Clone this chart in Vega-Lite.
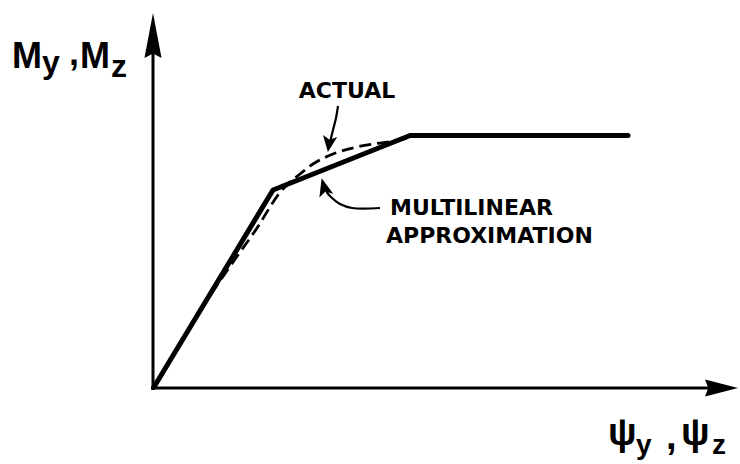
{
  "$schema": "https://vega.github.io/schema/vega-lite/v6.json",
  "width": 740,
  "height": 464,
  "padding": 0,
  "autosize": "none",
  "background": "white",
  "config": {"view": {"stroke": null}},
  "datasets": {
    "axes": [
      {"axis": "moment", "x": -0.2, "y": -0.6, "x2": -0.2, "y2": 68},
      {"axis": "rotation", "x": -0.6, "y": -0.2, "x2": 112, "y2": -0.2}
    ],
    "axisTips": [
      {"axis": "moment", "x": -0.2, "y": 70.3},
      {"axis": "rotation", "x": 113.5, "y": -0.2}
    ],
    "multilinear": [
      {"x": 0, "y": 0},
      {"x": 23.8, "y": 39.4},
      {"x": 51.2, "y": 50.3},
      {"x": 94.8, "y": 50.3}
    ],
    "actual": [
      {"x": 0.2, "y": 0.2},
      {"x": 10.2, "y": 16.8},
      {"x": 16.8, "y": 26.4},
      {"x": 21.0, "y": 32.4},
      {"x": 23.2, "y": 36.0},
      {"x": 24.8, "y": 38.4},
      {"x": 26.8, "y": 40.6},
      {"x": 29.2, "y": 42.6},
      {"x": 31.8, "y": 44.6},
      {"x": 35.8, "y": 46.6},
      {"x": 40.6, "y": 48.0},
      {"x": 44.6, "y": 48.7},
      {"x": 48.6, "y": 49.3},
      {"x": 51.6, "y": 50.0}
    ],
    "leaders": [
      {"leader": "ACTUAL", "i": 0, "x": 36.8, "y": 56.2},
      {"leader": "ACTUAL", "i": 1, "x": 36.4, "y": 53.8},
      {"leader": "ACTUAL", "i": 2, "x": 35.8, "y": 51.4},
      {"leader": "ACTUAL", "i": 3, "x": 35.3, "y": 49.4},
      {"leader": "MULTILINEAR", "i": 0, "x": 45.2, "y": 35.8},
      {"leader": "MULTILINEAR", "i": 1, "x": 39.6, "y": 35.8},
      {"leader": "MULTILINEAR", "i": 2, "x": 37.2, "y": 36.6},
      {"leader": "MULTILINEAR", "i": 3, "x": 35.4, "y": 38.0},
      {"leader": "MULTILINEAR", "i": 4, "x": 34.5, "y": 39.0}
    ],
    "leaderTips": [
      {"leader": "ACTUAL", "x": 35.0, "y": 48.6},
      {"leader": "MULTILINEAR", "x": 34.0, "y": 40.0}
    ],
    "notes": [
      {"note": "ACTUAL", "text": "ACTUAL", "x": 38.6, "y": 57.8},
      {"note": "MULTILINEAR", "text": "MULTILINEAR", "x": 47.2, "y": 34.4},
      {"note": "MULTILINEAR", "text": "APPROXIMATION", "x": 46.4, "y": 28.8}
    ],
    "axisLabels": [
      {"axis": "moment", "part": "symbol", "text": "M", "x": -28.4, "y": 63.8},
      {"axis": "moment", "part": "subscript", "text": "y", "x": -22.4, "y": 62.8},
      {"axis": "moment", "part": "separator", "text": ",", "x": -17.0, "y": 64.4},
      {"axis": "moment", "part": "symbol", "text": "M", "x": -14.8, "y": 63.8},
      {"axis": "moment", "part": "subscript", "text": "z", "x": -8.6, "y": 62.0},
      {"axis": "rotation", "part": "symbol", "text": "ψ", "x": 90.8, "y": -11.6},
      {"axis": "rotation", "part": "subscript", "text": "y", "x": 96.4, "y": -13.4},
      {"axis": "rotation", "part": "separator", "text": ",", "x": 102.4, "y": -12.4},
      {"axis": "rotation", "part": "symbol", "text": "ψ", "x": 105.4, "y": -11.6},
      {"axis": "rotation", "part": "subscript", "text": "z", "x": 111.6, "y": -13.4}
    ]
  },
  "encoding": {
    "x": {"field": "x", "type": "quantitative", "scale": {"domain": [-30.8, 117.2], "nice": false, "zero": false}, "axis": null},
    "y": {"field": "y", "type": "quantitative", "scale": {"domain": [-15.4, 77.4], "nice": false, "zero": false}, "axis": null}
  },
  "layer": [
    {
      "data": {"name": "axes"},
      "mark": {"type": "rule", "color": "black", "strokeWidth": 3},
      "encoding": {"x2": {"field": "x2"}, "y2": {"field": "y2"}}
    },
    {
      "data": {"name": "axisTips"},
      "transform": [{"filter": "datum.axis === 'moment'"}],
      "mark": {"type": "point", "filled": true, "color": "black", "opacity": 1, "shape": "M0,-1L0.38,1L0,0.8L-0.38,1Z", "size": 2025}
    },
    {
      "data": {"name": "axisTips"},
      "transform": [{"filter": "datum.axis === 'rotation'"}],
      "mark": {"type": "point", "filled": true, "color": "black", "opacity": 1, "shape": "M1,0L-1,0.52L-0.8,0L-1,-0.52Z", "size": 1089}
    },
    {
      "data": {"name": "multilinear"},
      "mark": {"type": "line", "color": "black", "strokeWidth": 5, "strokeCap": "round", "strokeJoin": "round"}
    },
    {
      "data": {"name": "actual"},
      "mark": {"type": "line", "color": "black", "strokeWidth": 2.8, "strokeDash": [12, 6], "interpolate": "monotone"}
    },
    {
      "data": {"name": "leaders"},
      "mark": {"type": "line", "color": "black", "strokeWidth": 2.2, "interpolate": "catmull-rom"},
      "encoding": {"detail": {"field": "leader"}, "order": {"field": "i", "type": "quantitative"}}
    },
    {
      "data": {"name": "leaderTips"},
      "transform": [{"filter": "datum.leader === 'ACTUAL'"}],
      "mark": {"type": "point", "filled": true, "color": "black", "opacity": 1, "shape": "M0,1L-0.9,-1L0,-0.55L0.9,-1Z", "size": 256, "angle": 8}
    },
    {
      "data": {"name": "leaderTips"},
      "transform": [{"filter": "datum.leader === 'MULTILINEAR'"}],
      "mark": {"type": "point", "filled": true, "color": "black", "opacity": 1, "shape": "M0,-1L0.8,1L0,0.55L-0.8,1Z", "size": 324, "angle": -15}
    },
    {
      "data": {"name": "notes"},
      "transform": [{"filter": "datum.note === 'ACTUAL'"}],
      "mark": {"type": "text", "align": "center", "baseline": "alphabetic", "font": "DejaVu Sans", "fontWeight": "bold", "fontSize": 22, "color": "black"},
      "encoding": {"text": {"field": "text"}}
    },
    {
      "data": {"name": "notes"},
      "transform": [{"filter": "datum.note === 'MULTILINEAR'"}],
      "mark": {"type": "text", "align": "left", "baseline": "alphabetic", "font": "DejaVu Sans", "fontWeight": "bold", "fontSize": 22, "color": "black"},
      "encoding": {"text": {"field": "text"}}
    },
    {
      "data": {"name": "axisLabels"},
      "transform": [{"filter": "datum.axis === 'moment' && datum.part !== 'subscript'"}],
      "mark": {"type": "text", "align": "left", "baseline": "alphabetic", "font": "Liberation Sans Narrow, Liberation Sans", "fontWeight": "bold", "fontSize": 36, "color": "black"},
      "encoding": {"text": {"field": "text"}}
    },
    {
      "data": {"name": "axisLabels"},
      "transform": [{"filter": "datum.axis === 'moment' && datum.part === 'subscript'"}],
      "mark": {"type": "text", "align": "left", "baseline": "alphabetic", "font": "Liberation Sans Narrow, Liberation Sans", "fontWeight": "bold", "fontSize": 32, "color": "black"},
      "encoding": {"text": {"field": "text"}}
    },
    {
      "data": {"name": "axisLabels"},
      "transform": [{"filter": "datum.axis === 'rotation' && datum.part !== 'subscript'"}],
      "mark": {"type": "text", "align": "left", "baseline": "alphabetic", "font": "Liberation Sans Narrow, Liberation Sans", "fontWeight": "bold", "fontSize": 38, "color": "black"},
      "encoding": {"text": {"field": "text"}}
    },
    {
      "data": {"name": "axisLabels"},
      "transform": [{"filter": "datum.axis === 'rotation' && datum.part === 'subscript'"}],
      "mark": {"type": "text", "align": "left", "baseline": "alphabetic", "font": "Liberation Sans Narrow, Liberation Sans", "fontWeight": "bold", "fontSize": 28, "color": "black"},
      "encoding": {"text": {"field": "text"}}
    }
  ]
}
